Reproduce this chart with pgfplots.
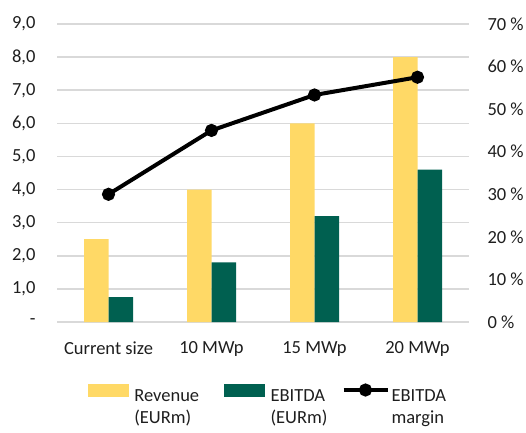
\documentclass[border=0pt]{standalone}
\usepackage{pgfplots}
\pgfplotsset{compat=1.18}
\usepackage{fontspec}
\setmainfont{Carlito}
\definecolor{rev}{RGB}{255,217,102}
\definecolor{ebit}{RGB}{0,96,80}
\definecolor{gridc}{RGB}{217,217,217}
\definecolor{txt}{RGB}{30,30,30}
\newcommand{\fs}{\fontsize{18.5}{22}\selectfont}
\begin{document}
\begin{tikzpicture}[font=\fs, text=txt]
\useasboundingbox (-57pt,-110pt) rectangle (469pt,322pt);
\pgfplotsset{
  base/.style={scale only axis, width=412pt, height=298pt, at={(0pt,0pt)}, anchor=south west,
    xmin=-0.5, xmax=3.5, axis line style={draw=none}, major tick length=0pt,
    /pgf/number format/assume math mode=true,
    tick label style={font=\fs, text=txt}},
}
\begin{axis}[base, ymin=0, ymax=9, ytick={0,1,...,9},
  yticklabels={{-\hspace{0.5em}},{1,0},{2,0},{3,0},{4,0},{5,0},{6,0},{7,0},{8,0},{9,0}},
  yticklabel style={xshift=-18pt},
  ymajorgrids, grid style={gridc, line width=1.5pt},
  xtick={0,1,2,3}, xticklabels={Current size,10 MWp,15 MWp,20 MWp},
  xticklabel style={yshift=-16pt},
  ybar=0pt, bar width=24.5pt]
\addplot[fill=rev, draw=none] coordinates {(0,2.5) (1,4.0) (2,6.0) (3,8.0)};
\addplot[fill=ebit, draw=none] coordinates {(0,0.75) (1,1.8) (2,3.2) (3,4.6)};
\end{axis}
\begin{axis}[base, ymin=0, ymax=70, ytick={0,10,...,70},
  yticklabels={{0 \%},{10 \%},{20 \%},{30 \%},{40 \%},{50 \%},{60 \%},{70 \%}},
  axis y line*=right, axis x line=none, xtick=\empty,
  yticklabel style={xshift=15pt},
  legend style={at={(0.5,-0.2)}, xshift=5pt, anchor=north, draw=none, fill=none, legend columns=3,
    font=\fs, text=txt, cells={anchor=west},
    /tikz/column 1/.style={column sep=4pt},
    /tikz/column 2/.style={column sep=23pt},
    /tikz/column 3/.style={column sep=4pt},
    /tikz/column 4/.style={column sep=12pt},
    /tikz/column 5/.style={column sep=0pt}}]
\addlegendimage{legend image code/.code={\fill[rev] (0pt,-1.5pt) rectangle (40pt,10.5pt);}}
\addlegendentry{\begin{tabular}[t]{@{}l@{}}Revenue\\(EURm)\end{tabular}}
\addlegendimage{legend image code/.code={\fill[ebit] (0pt,-1.5pt) rectangle (40pt,10.5pt);}}
\addlegendentry{\begin{tabular}[t]{@{}l@{}}EBITDA\\(EURm)\end{tabular}}
\addplot[black, line width=4pt, mark=*, mark size=4.5pt,
  legend image code/.code={\draw[black, line width=4pt, mark=*, mark size=4.5pt, mark repeat=2, mark phase=2] plot coordinates {(0pt,4.5pt) (22pt,4.5pt) (44pt,4.5pt)};}]
  coordinates {(0,30) (1,45) (2,53.33) (3,57.5)};
\addlegendentry{\begin{tabular}[t]{@{}l@{}}EBITDA\\margin\end{tabular}}
\end{axis}
\end{tikzpicture}
\end{document}
